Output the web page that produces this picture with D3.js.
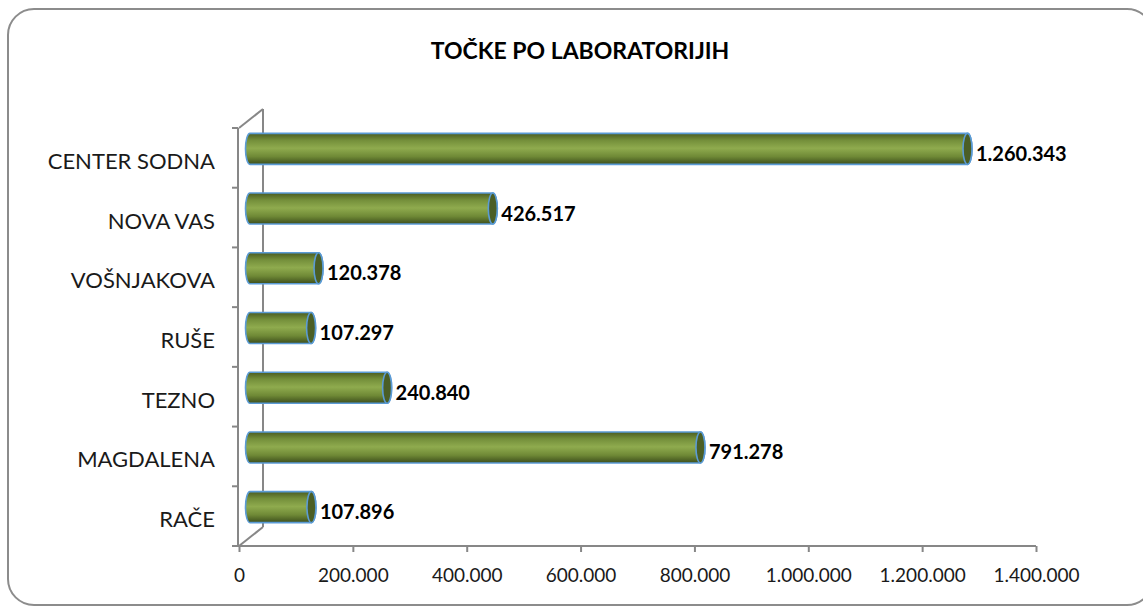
<!DOCTYPE html>
<html>
<head>
<meta charset="utf-8">
<script src="https://cdn.jsdelivr.net/npm/d3@7"></script>
<style>
  html, body { margin: 0; padding: 0; background: #fff; }
  svg { display: block; }
</style>
</head>
<body>
<svg id="chart" width="1143" height="609"></svg>
<script>
const title = "TOČKE PO LABORATORIJIH";
const categories = ["CENTER SODNA", "NOVA VAS", "VOŠNJAKOVA", "RUŠE", "TEZNO", "MAGDALENA", "RAČE"];
const values = [1260343, 426517, 120378, 107297, 240840, 791278, 107896];
const tickValues = [0, 200000, 400000, 600000, 800000, 1000000, 1200000, 1400000];

const svg = d3.select("#chart");
const locale = d3.formatLocale({decimal: ",", thousands: ".", grouping: [3], currency: ["", ""]});
const fmt = locale.format(",d");

// frame
svg.append("rect")
  .attr("x", 8).attr("y", 9).attr("width", 1145).attr("height", 596)
  .attr("rx", 26).attr("ry", 26)
  .attr("fill", "#fff").attr("stroke", "#8c8c8c").attr("stroke-width", 2);

// title
svg.append("text")
  .attr("x", 580).attr("y", 59)
  .attr("text-anchor", "middle")
  .attr("font-family", "Lato, 'Open Sans', sans-serif")
  .attr("font-weight", "bold").attr("font-size", 23)
  .attr("fill", "#000")
  .text(title);

const x = d3.scaleLinear().domain([0, 1400000]).range([239, 1036]);
const y = d3.scaleBand().domain(categories).range([128, 546]).padding(0);

const depthX = 24, depthY = 19;
const gray = "#878787";

// 3D walls
const walls = svg.append("g").attr("fill", "none").attr("stroke", gray).attr("stroke-width", 2);
walls.append("line").attr("x1", x(0)).attr("y1", y.range()[0]).attr("x2", x(0) + depthX).attr("y2", y.range()[0] - depthY);
walls.append("line").attr("x1", x(0) + depthX).attr("y1", y.range()[0] - depthY).attr("x2", x(0) + depthX).attr("y2", y.range()[1] - depthY);
walls.append("line").attr("x1", x(0)).attr("y1", y.range()[1]).attr("x2", x(0) + depthX).attr("y2", y.range()[1] - depthY);

// left category axis
const yAxis = svg.append("g").attr("transform", `translate(${x(0) - 1},0)`);
yAxis.append("line").attr("x1", 0).attr("x2", 0).attr("y1", y.range()[0]).attr("y2", y.range()[1])
  .attr("stroke", gray).attr("stroke-width", 2);
const bounds = categories.map(c => y(c)).concat([y.range()[1]]);
yAxis.selectAll("line.tk").data(bounds).join("line").attr("class", "tk")
  .attr("x1", -6).attr("x2", 0).attr("y1", d => d).attr("y2", d => d)
  .attr("stroke", gray).attr("stroke-width", 2);
svg.append("g").selectAll("text").data(categories).join("text")
  .attr("x", 215).attr("y", d => y(d) + y.bandwidth() / 2 + 11)
  .attr("text-anchor", "end")
  .attr("font-family", "Lato, 'Open Sans', sans-serif")
  .attr("font-size", 22).attr("fill", "#1a1a1a")
  .text(d => d);

// bottom value axis
const xAxis = d3.axisBottom(x).tickValues(tickValues).tickFormat(fmt).tickSize(6).tickSizeOuter(0);
const gx = svg.append("g").attr("transform", `translate(0,${y.range()[1]})`).call(xAxis);
gx.select(".domain").attr("stroke", gray).attr("stroke-width", 2).attr("d", `M${x(0) - 1},0H${x(1400000)}`);
gx.selectAll(".tick line").attr("stroke", gray).attr("stroke-width", 2);
gx.selectAll(".tick text")
  .attr("font-family", "Lato, 'Open Sans', sans-serif")
  .attr("font-size", 19).attr("fill", "#1a1a1a")
  .attr("dy", null).attr("y", 36);

// gradient for cylinders
const defs = svg.append("defs");
const grad = defs.append("linearGradient").attr("id", "cyl").attr("x1", 0).attr("y1", 0).attr("x2", 0).attr("y2", 1);
grad.append("stop").attr("offset", "0%").attr("stop-color", "#4a5c22");
grad.append("stop").attr("offset", "22%").attr("stop-color", "#738e3a");
grad.append("stop").attr("offset", "48%").attr("stop-color", "#8fab4e");
grad.append("stop").attr("offset", "75%").attr("stop-color", "#6f8936");
grad.append("stop").attr("offset", "100%").attr("stop-color", "#3d4e1c");

// bars (cylinders)
const offX = 11, offY = -9, barH = 31, rx = 4.5;
const bars = svg.append("g").selectAll("g").data(categories.map((c, i) => ({c, v: values[i]}))).join("g");
bars.append("path")
  .attr("d", d => {
    const cy = y(d.c) + y.bandwidth() / 2 + offY;
    const t = cy - barH / 2, b = cy + barH / 2;
    const x0 = x(0) + offX, x1 = x(d.v) + offX;
    const ry = barH / 2;
    return `M${x0},${t}L${x1},${t}A${rx},${ry} 0 0 1 ${x1},${b}L${x0},${b}A${rx},${ry} 0 0 1 ${x0},${t}Z`;
  })
  .attr("fill", "url(#cyl)").attr("stroke", "#5b9bd5").attr("stroke-width", 1.6);
bars.append("ellipse")
  .attr("cx", d => x(d.v) + offX)
  .attr("cy", d => y(d.c) + y.bandwidth() / 2 + offY)
  .attr("rx", rx).attr("ry", barH / 2)
  .attr("fill", "#4b5e25").attr("stroke", "#5b9bd5").attr("stroke-width", 1.6);
bars.append("text")
  .attr("x", d => x(d.v) + offX + rx + 4)
  .attr("y", d => y(d.c) + y.bandwidth() / 2 + offY + 12)
  .attr("font-family", "Lato, 'Open Sans', sans-serif")
  .attr("font-weight", "bold").attr("font-size", 20).attr("fill", "#000")
  .text(d => fmt(d.v));
</script>
</body>
</html>
